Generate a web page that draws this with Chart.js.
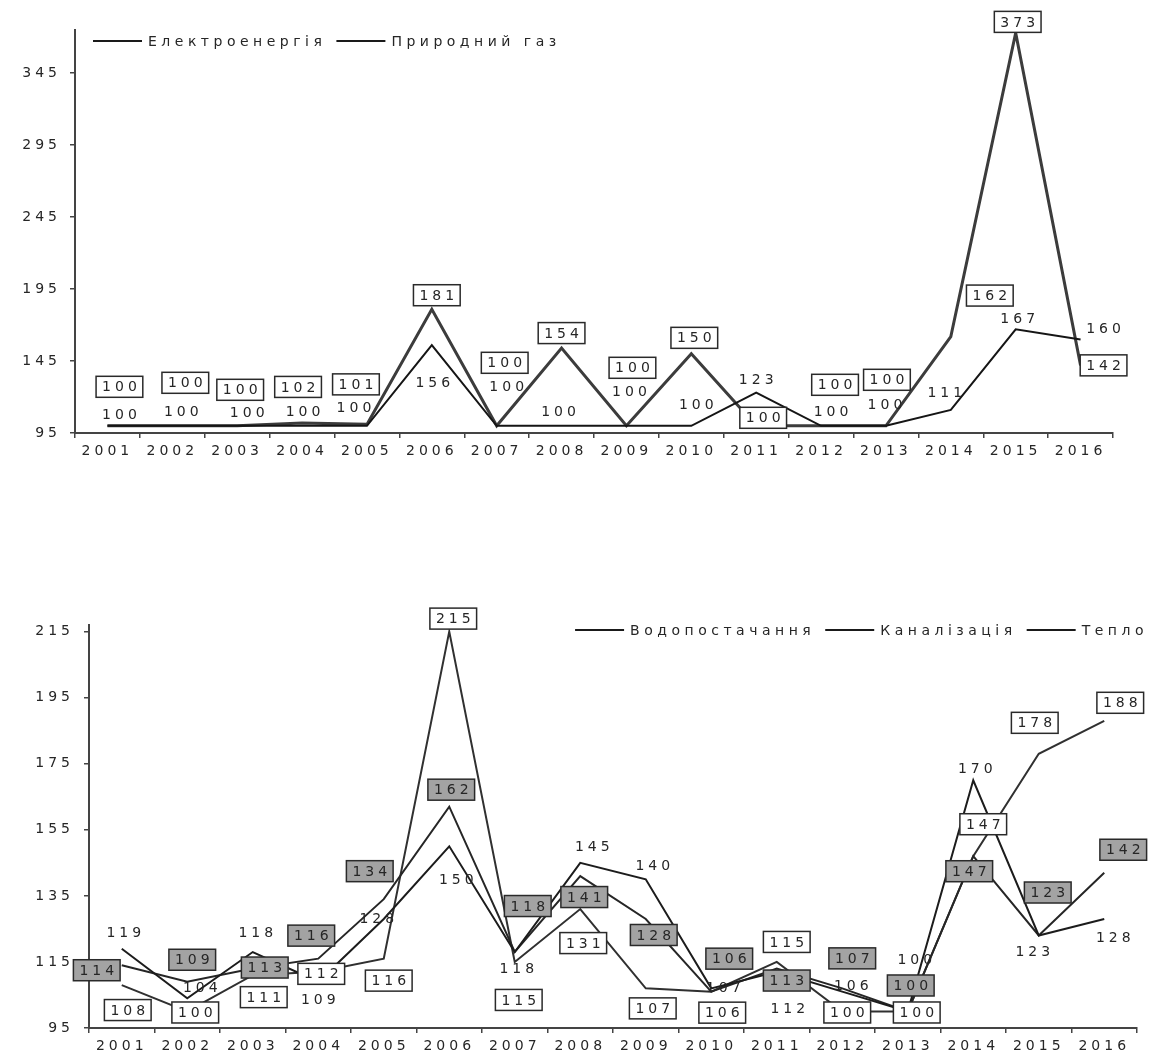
<!DOCTYPE html>
<html>
<head>
<meta charset="utf-8">
<script src="https://cdn.jsdelivr.net/npm/chart.js@4.4.1/dist/chart.umd.min.js"></script>
<style>
  html, body { margin: 0; padding: 0; background: #fff; }
  #topBox { position: absolute; left: 0; top: 0; width: 1155px; height: 470px; }
  #bottomBox { position: absolute; left: 0; top: 580px; width: 1155px; height: 475px; }
</style>
</head>
<body>
<div id="topBox"><canvas id="topChart"></canvas></div>
<div id="bottomBox"><canvas id="bottomChart"></canvas></div>
<script>
// categories
const years = ['2001','2002','2003','2004','2005','2006','2007','2008','2009','2010','2011','2012','2013','2014','2015','2016'];

// top chart series
const electricity = [100,100,100,100,100,156,100,100,100,100,123,100,100,111,167,160];
const gas = [100,100,100,102,101,181,100,154,100,150,100,100,100,162,373,142];

// bottom chart series
const water = [119,104,118,109,128,150,118,145,140,107,112,106,100,170,123,128];
const sewer = [114,109,113,116,134,162,118,141,128,106,113,107,100,147,123,142];
const heat = [108,100,111,112,116,215,115,131,107,106,115,100,100,147,178,188];

// tick labels
const topTicks = [95,145,195,245,295,345];
const bottomTicks = [95,115,135,155,175,195,215];

// where each value label sits relative to its point (px), like the hand-moved labels in the picture
const electricityShift = [[12,-11],[9,-14],[10,-13],[1,-14],[-13,-18],[1,37],[10,-39],[-3,-14],[3,-34],[5,-21],[0,-13],[10,-14],[-1,-21],[-6,-18],[2,-11],[23,-11]];
const gasShift = [[12,-39],[13,-43],[3,-36],[-4,-36],[-11,-40],[5,-14],[8,-63],[0,-15],[6,-58],[3,-16],[7,-8],[14,-41],[1,-46],[39,-41],[2,-11],[23,0]];
const waterShift = [[2,-16],[13,-11],[3,-20],[0,18],[-7,-1],[7,33],[2,16],[12,-16],[7,-14],[12,-1],[11,37],[9,-6],[7,-52],[2,-12],[-6,16],[9,18]];
const sewerShift = [[-25,5],[5,-22],[12,-1],[-7,-23],[-14,-28],[2,-17],[13,-46],[4,21],[8,16],[18,-33],[10,12],[10,-30],[3,-26],[-4,15],[9,-43],[19,-23]];
const heatShift = [[6,25],[8,1],[11,22],[3,2],[5,22],[4,-13],[4,38],[3,34],[7,20],[11,21],[10,-20],[5,1],[9,1],[10,-32],[-4,-31],[16,-18]];

const FONT = 'DejaVu Sans';
const TEXT = '#262626';
const GAP = 4; // letter spacing of ticks and value labels

function spacing(ctx, px) {
  if ('letterSpacing' in ctx) ctx.letterSpacing = px + 'px';
}

const spacingPlugin = {
  id: 'spacing',
  beforeLayout(chart) { spacing(chart.ctx, GAP); },
  beforeDraw(chart) { spacing(chart.ctx, GAP); }
};

// value labels: plain text, white box or grey box
const pointLabels = {
  id: 'pointLabels',
  afterDatasetsDraw(chart) {
    const ctx = chart.ctx;
    chart.data.datasets.forEach((ds, i) => {
      const meta = chart.getDatasetMeta(i);
      meta.data.forEach((pt, j) => {
        const text = String(ds.data[j]);
        const sh = ds.labelShift[j];
        const x = pt.x + sh[0];
        const y = pt.y + sh[1];
        ctx.save();
        spacing(ctx, GAP);
        ctx.font = '14px "' + FONT + '"';
        const w = ctx.measureText(text).width - GAP + 12;
        const h = 21;
        if (ds.labelStyle !== 'plain') {
          ctx.fillStyle = ds.labelStyle === 'grey' ? '#a3a3a3' : '#ffffff';
          ctx.fillRect(x - w / 2, y - h / 2, w, h);
          ctx.strokeStyle = '#2a2a2a';
          ctx.lineWidth = 1.5;
          ctx.strokeRect(x - w / 2, y - h / 2, w, h);
        }
        ctx.fillStyle = TEXT;
        ctx.textAlign = 'center';
        ctx.textBaseline = 'middle';
        ctx.fillText(text, x + GAP / 2, y + 1);
        ctx.restore();
      });
    });
  }
};

// legend drawn inside the plot area: short line, then the name
const lineLegend = {
  id: 'lineLegend',
  afterDraw(chart, args, opts) {
    const ctx = chart.ctx;
    ctx.save();
    spacing(ctx, 4.5);
    ctx.font = '14px "' + FONT + '"';
    const items = chart.data.datasets.map(ds => ({ text: ds.label, w: ctx.measureText(ds.label).width }));
    const sample = 49, gap = 6, between = 10;
    let total = 0;
    items.forEach((it, k) => { total += sample + gap + it.w + (k ? between : 0); });
    let x = opts.align === 'right' ? opts.x - total : opts.x;
    items.forEach(it => {
      ctx.strokeStyle = '#1a1a1a';
      ctx.lineWidth = 2;
      ctx.beginPath();
      ctx.moveTo(x, opts.y);
      ctx.lineTo(x + sample, opts.y);
      ctx.stroke();
      x += sample + gap;
      ctx.fillStyle = TEXT;
      ctx.textBaseline = 'middle';
      ctx.textAlign = 'left';
      ctx.fillText(it.text, x, opts.y + 1);
      x += it.w + between;
    });
    ctx.restore();
  }
};

function axes(yMin, yMax, yTicks, yWidth, xHeight, yPad) {
  const tickFont = { family: FONT, size: 14 };
  return {
    x: {
      offset: true,
      afterFit: s => { s.height = xHeight; },
      grid: { drawOnChartArea: false, tickLength: 5, color: '#444', lineWidth: 1.5, offset: true },
      border: { color: '#444', width: 2 },
      ticks: { color: TEXT, font: tickFont, padding: 5, autoSkip: false, maxRotation: 0 }
    },
    y: {
      min: yMin,
      max: yMax,
      afterBuildTicks: s => { s.ticks = yTicks.map(v => ({ value: v })); },
      afterFit: s => { s.width = yWidth; },
      grid: { drawOnChartArea: false, tickLength: 5, color: '#444', lineWidth: 1.5 },
      border: { color: '#444', width: 2 },
      ticks: { color: TEXT, font: tickFont, padding: yPad }
    }
  };
}

function series(label, data, color, width, style, shift) {
  return {
    label: label,
    data: data,
    borderColor: color,
    borderWidth: width,
    pointRadius: 0,
    tension: 0,
    fill: false,
    labelStyle: style,
    labelShift: shift
  };
}

new Chart(document.getElementById('topChart'), {
  type: 'line',
  data: {
    labels: years,
    datasets: [
      series('Електроенергія', electricity, '#151515', 2, 'plain', electricityShift),
      series('Природний газ', gas, '#3c3c3c', 3, 'box', gasShift)
    ]
  },
  options: {
    responsive: true,
    maintainAspectRatio: false,
    animation: false,
    devicePixelRatio: 1,
    layout: { padding: { top: 30, right: 42, left: 0, bottom: 0 } },
    scales: axes(95, 375, topTicks, 75, 37, 9),
    plugins: {
      legend: { display: false },
      tooltip: { enabled: false },
      lineLegend: { x: 93, y: 41, align: 'left' }
    }
  },
  plugins: [spacingPlugin, pointLabels, lineLegend]
});

new Chart(document.getElementById('bottomChart'), {
  type: 'line',
  data: {
    labels: years,
    datasets: [
      series('Водопостачання', water, '#1c1c1c', 2, 'plain', waterShift),
      series('Каналізація', sewer, '#262626', 2, 'grey', sewerShift),
      series('Тепло', heat, '#303030', 2, 'box', heatShift)
    ]
  },
  options: {
    responsive: true,
    maintainAspectRatio: false,
    animation: false,
    devicePixelRatio: 1,
    layout: { padding: { top: 45, right: 18, left: 0, bottom: 0 } },
    scales: axes(95, 217, bottomTicks, 89, 27, 10),
    plugins: {
      legend: { display: false },
      tooltip: { enabled: false },
      lineLegend: { x: 1148, y: 50, align: 'right' }
    }
  },
  plugins: [spacingPlugin, pointLabels, lineLegend]
});
</script>
</body>
</html>
